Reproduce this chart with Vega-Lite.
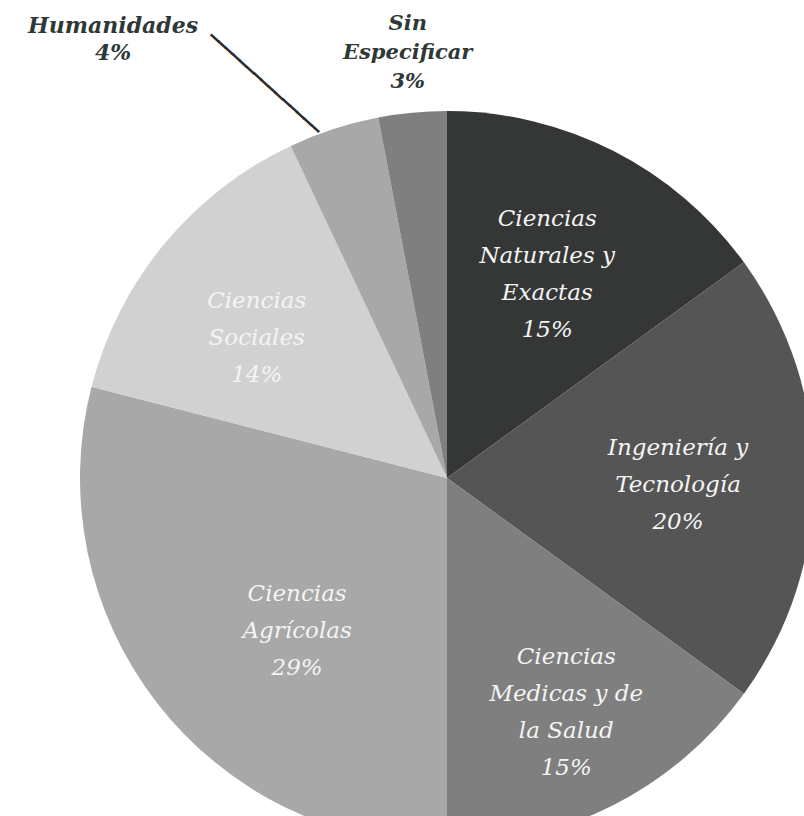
{
  "$schema": "https://vega.github.io/schema/vega-lite/v6.json",
  "width": 894,
  "height": 956,
  "padding": 0,
  "autosize": {"type": "none"},
  "background": "white",
  "view": {"stroke": null},
  "data": {
    "values": [
      {"orden": 1, "categoria": "Ciencias Naturales y Exactas", "valor": 15, "etiqueta": "Ciencias\nNaturales y\nExactas\n15%"},
      {"orden": 2, "categoria": "Ingeniería y Tecnología", "valor": 20, "etiqueta": "Ingeniería y\nTecnología\n20%"},
      {"orden": 3, "categoria": "Ciencias Medicas y de la Salud", "valor": 15, "etiqueta": "Ciencias\nMedicas y de\nla Salud\n15%"},
      {"orden": 4, "categoria": "Ciencias Agrícolas", "valor": 29, "etiqueta": "Ciencias\nAgrícolas\n29%"},
      {"orden": 5, "categoria": "Ciencias Sociales", "valor": 14, "etiqueta": "Ciencias\nSociales\n14%"},
      {"orden": 6, "categoria": "Humanidades", "valor": 4, "etiqueta": "Humanidades\n4%"},
      {"orden": 7, "categoria": "Sin Especificar", "valor": 3, "etiqueta": "Sin\nEspecificar\n3%"}
    ]
  },
  "encoding": {
    "theta": {"field": "valor", "type": "quantitative", "stack": true},
    "order": {"field": "orden", "type": "quantitative", "sort": "ascending"}
  },
  "layer": [
    {
      "mark": {"type": "arc", "outerRadius": 367},
      "encoding": {
        "color": {
          "field": "categoria",
          "type": "nominal",
          "legend": null,
          "scale": {
            "domain": ["Ciencias Naturales y Exactas", "Ingeniería y Tecnología", "Ciencias Medicas y de la Salud", "Ciencias Agrícolas", "Ciencias Sociales", "Humanidades", "Sin Especificar"],
            "range": ["#353737", "#555555", "#7f7f7f", "#a7a8a7", "#d1d1d1", "#a7a8a7", "#7f7f7f"]
          }
        }
      }
    },
    {
      "mark": {"type": "text", "radius": 234, "dx": -6, "dy": -51, "font": "DejaVu Serif", "fontStyle": "italic", "fontSize": 23, "lineHeight": 37, "fill": "#f4f4f4", "align": "center", "baseline": "middle", "lineBreak": "\n"},
      "encoding": {"text": {"condition": {"test": "datum.orden == 1", "field": "etiqueta"}, "value": ""}}
    },
    {
      "mark": {"type": "text", "radius": 234, "dx": -3, "dy": -30, "font": "DejaVu Serif", "fontStyle": "italic", "fontSize": 23, "lineHeight": 37, "fill": "#f4f4f4", "align": "center", "baseline": "middle", "lineBreak": "\n"},
      "encoding": {"text": {"condition": {"test": "datum.orden == 2", "field": "etiqueta"}, "value": ""}}
    },
    {
      "mark": {"type": "text", "radius": 234, "dx": 13, "dy": -29, "font": "DejaVu Serif", "fontStyle": "italic", "fontSize": 23, "lineHeight": 37, "fill": "#f4f4f4", "align": "center", "baseline": "middle", "lineBreak": "\n"},
      "encoding": {"text": {"condition": {"test": "datum.orden == 3", "field": "etiqueta"}, "value": ""}}
    },
    {
      "mark": {"type": "text", "radius": 234, "dx": 35, "dy": -27, "font": "DejaVu Serif", "fontStyle": "italic", "fontSize": 23, "lineHeight": 37, "fill": "#f4f4f4", "align": "center", "baseline": "middle", "lineBreak": "\n"},
      "encoding": {"text": {"condition": {"test": "datum.orden == 4", "field": "etiqueta"}, "value": ""}}
    },
    {
      "mark": {"type": "text", "radius": 234, "dx": -10, "dy": -28, "font": "DejaVu Serif", "fontStyle": "italic", "fontSize": 23, "lineHeight": 37, "fill": "#f4f4f4", "align": "center", "baseline": "middle", "lineBreak": "\n"},
      "encoding": {"text": {"condition": {"test": "datum.orden == 5", "field": "etiqueta"}, "value": ""}}
    },
    {
      "mark": {"type": "text", "radius": 428, "dx": 1, "dy": -28, "font": "DejaVu Serif", "fontStyle": "italic", "fontWeight": "bold", "fontSize": 21, "lineHeight": 29, "fill": "#2e3937", "align": "center", "baseline": "middle", "lineBreak": "\n"},
      "encoding": {"text": {"condition": {"test": "datum.orden == 7", "field": "etiqueta"}, "value": ""}}
    },
    {
      "mark": {"type": "text", "radius": 440, "dx": -198, "dy": -34, "font": "DejaVu Serif", "fontStyle": "italic", "fontWeight": "bold", "fontSize": 22, "lineHeight": 27, "fill": "#2e3937", "align": "center", "baseline": "middle", "lineBreak": "\n"},
      "encoding": {"text": {"condition": {"test": "datum.orden == 6", "field": "etiqueta"}, "value": ""}}
    },
    {
      "mark": {"type": "text", "radius": 436, "dx": -22, "dy": 47, "angle": 42, "font": "DejaVu Sans Mono", "fontSize": 16, "fill": "#2a2a2a", "stroke": "#2a2a2a", "strokeWidth": 1.1, "align": "center", "baseline": "middle"},
      "encoding": {"text": {"condition": {"test": "datum.orden == 6", "value": "───────────────"}, "value": ""}}
    }
  ]
}
